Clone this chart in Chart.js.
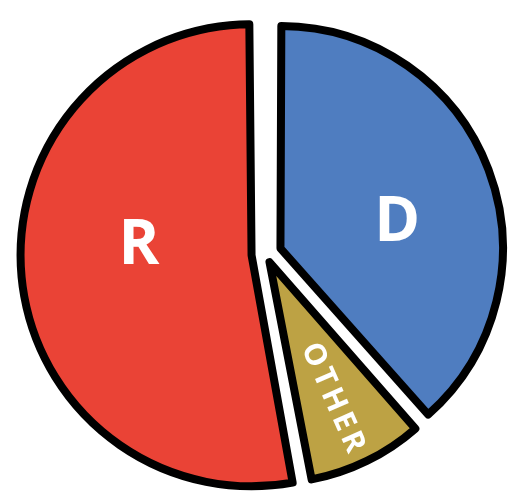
<!DOCTYPE html>
<html>
<head>
<meta charset="utf-8">
<script src="https://cdn.jsdelivr.net/npm/chart.js@4"></script>
<style>
  html, body { margin: 0; padding: 0; background: #ffffff; }
  #wrap { width: 514px; height: 495px; }
</style>
</head>
<body>
<div id="wrap"><canvas id="myChart" width="514" height="495"></canvas></div>
<script>
// 数据
const parties = ['D', 'OTHER', 'R'];
const shares = [38.5, 8.5, 53];
const sliceColors = ['#4F7DC0', '#BDA244', '#EA4336'];
const sliceOffsets = [64, 36, 56];

// 标签位置微调 (半径比例, 角度偏移)
const labelDist = [0.55, 0.69, 0.52];
const labelTurn = [0.15, 0.02, 0.17];

// 标签画在扇形里面
const sliceLabels = {
    id: 'sliceLabels',
    afterDatasetsDraw(chart) {
        const ctx = chart.ctx;
        const arcs = chart.getDatasetMeta(0).data;
        arcs.forEach((arc, i) => {
            const p = arc.getProps(['x', 'y', 'startAngle', 'endAngle', 'outerRadius'], true);
            const mid = (p.startAngle + p.endAngle) / 2;
            const shift = sliceOffsets[i] / 4;
            const ax = p.x + Math.cos(mid) * shift;
            const ay = p.y + Math.sin(mid) * shift;
            const a = mid + labelTurn[i];
            const x = ax + Math.cos(a) * p.outerRadius * labelDist[i];
            const y = ay + Math.sin(a) * p.outerRadius * labelDist[i];
            ctx.save();
            ctx.translate(x, y);
            ctx.fillStyle = '#ffffff';
            ctx.textAlign = 'center';
            ctx.textBaseline = 'middle';
            if (parties[i] === 'OTHER') {
                ctx.rotate(mid + 0.04);
                ctx.font = '700 30px "Open Sans"';
                ctx.letterSpacing = '4px';
                ctx.fillText(parties[i], 2, 0);
            } else {
                ctx.font = '700 62px "Open Sans"';
                ctx.fillText(parties[i], 0, 0);
            }
            ctx.restore();
        });
    }
};

const chart = new Chart(document.getElementById('myChart'), {
    type: 'pie',
    data: {
        labels: parties,
        datasets: [{
            data: shares,
            backgroundColor: sliceColors,
            borderColor: '#000000',
            borderWidth: 8,
            borderJoinStyle: 'round',
            offset: sliceOffsets,
            radius: 217
        }]
    },
    options: {
        responsive: false,
        animation: false,
        events: [],
        layout: { padding: { left: 17, right: 0, top: 13, bottom: 0 } },
        plugins: {
            legend: { display: false },
            tooltip: { enabled: false }
        }
    },
    plugins: [sliceLabels]
});
</script>
</body>
</html>
